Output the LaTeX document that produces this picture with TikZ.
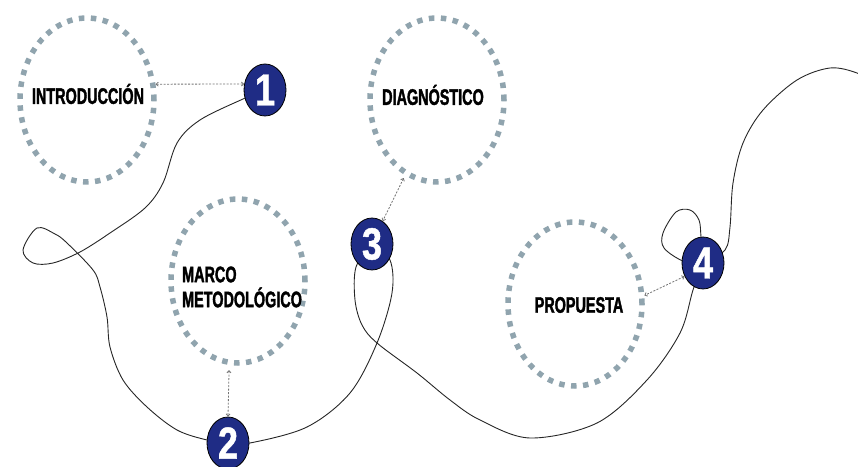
\documentclass[tikz,border=0pt]{standalone}
\usepackage{fontspec}
\newfontfamily\titlefont{Liberation Sans Bold}[FakeStretch=0.64, FakeBold=1.6]
\newfontfamily\numfont{Liberation Sans Bold}[FakeStretch=0.8, FakeBold=1]
\usetikzlibrary{shapes.geometric, arrows.meta}
\definecolor{ringgray}{HTML}{90A4AE}
\definecolor{stepblue}{HTML}{1F2C85}
\pgfdeclarelayer{bg}
\pgfsetlayers{bg,main}

\begin{document}
\begin{tikzpicture}[x=1pt, y=1pt,
  ring/.style={ellipse, draw=ringgray, line width=5.5pt, dash pattern=on 5.5pt off 6.5pt, minimum width=134pt, minimum height=164pt, inner sep=0pt},
  heading/.style={font=\titlefont\fontsize{22.5}{25}\selectfont, text=black, align=left, inner sep=0pt},
  stepnum/.style={ellipse, draw=black, line width=0.8pt, fill=stepblue, text=white, minimum width=42pt, minimum height=52pt, inner sep=0pt, font=\numfont\fontsize{45}{45}\selectfont},
  link/.style={black!55, line width=0.8pt, dash pattern=on 2pt off 1.5pt, {Straight Barb[length=2.2pt,width=4pt]}-{Straight Barb[length=2.2pt,width=4pt]}},
  road/.style={black!85, line width=0.9pt}]
\useasboundingbox (0,0) rectangle (858,466);

% dotted rings
\node[ring] (intro) at (87,366) {};
\node[heading] (introtext) at (88,372) {INTRODUCCIÓN};
\node[ring] (diag) at (437,366) {};
\node[heading] (diagtext) at (433,371) {DIAGNÓSTICO};
\node[ring] (marco) at (238,185) {};
\node[heading, anchor=west] (marcotext) at (182,179) {MARCO\\METODOLÓGICO};
\node[ring] (prop) at (575,162) {};
\node[heading] (proptext) at (579,161) {PROPUESTA};

% numbered steps
\node[stepnum] (n1) at (265,376) {1};
\node[stepnum] (n2) at (228,23) {2};
\node[stepnum] (n3) at (372,222) {3};
\node[stepnum] (n4) at (703,203) {4};
\coordinate (tailend) at (875,382);

% links
\draw[link] (intro.13) -- (n1.164);
\draw[link, shorten <=5pt] (marco.264) -- (n2.north);
\draw[link, shorten <=3pt] (diag.247) -- (n3.65);
\draw[link] (n4.216) -- (prop.7);

% the road
\begin{pgfonlayer}{bg}
\draw[road] plot[smooth, tension=0.55] coordinates {(n1) (243,367) (200,346) (177,323) (163,283) (145,258) (110,233) (80,214) (53,203) (33,203) (23,216) (37,238) (55,232) (67,223) (93,196) (100,179) (107,149) (110,119) (123,86) (147,59) (177,36) (207,26) (n2)};
\draw[road] plot[smooth, tension=0.55] coordinates {(n2) (250,23) (307,39) (350,73) (377,123) (392,173) (390,206) (n3)};
\draw[road] plot[smooth, tension=0.55] coordinates {(n3) (356,199) (355,166) (362,141) (377,123) (417,93) (450,66) (480,46) (530,28) (597,43) (647,86) (680,133) (693,176) (n4)};
\draw[road] plot[smooth, tension=0.55] coordinates {(n4) (683,205) (664,218) (663,233) (676,254) (690,256) (699,246) (701,229) (n4)};
\draw[road] plot[smooth, tension=0.55] coordinates {(n4) (725,216) (730,239) (733,283) (743,323) (763,356) (797,386) (830,398) (857,393) (tailend)};
\end{pgfonlayer}
\end{tikzpicture}
\end{document}
